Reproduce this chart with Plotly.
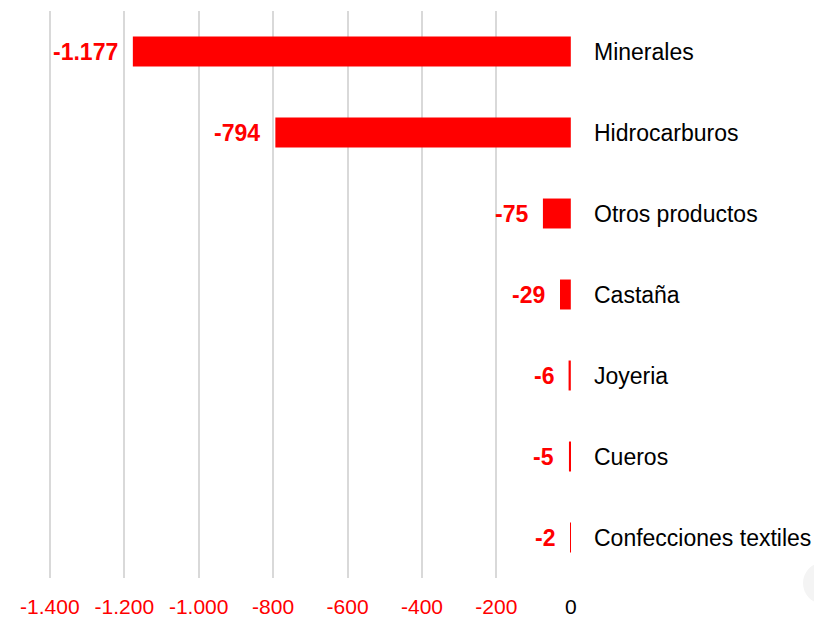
import plotly.graph_objects as go

categories = ["Minerales", "Hidrocarburos", "Otros productos", "Castaña", "Joyeria", "Cueros", "Confecciones textiles"]
values = [-1177, -794, -75, -29, -6, -5, -2]
tick_vals = [-1400, -1200, -1000, -800, -600, -400, -200, 0]
tick_text = ["-1.400", "-1.200", "-1.000", "-800", "-600", "-400", "-200", "<span style='color:black'>0</span>"]

def fmt(v):
    return f"{v:,}".replace(",", ".")

RED = "#ff0000"
FONT = "Liberation Sans, Arial, sans-serif"

fig = go.Figure()
fig.add_trace(go.Bar(
    x=values, y=categories, orientation="h",
    marker=dict(color=RED, line=dict(width=0)),
    width=0.37, hoverinfo="skip",
))

for c, v in zip(categories, values):
    fig.add_annotation(x=v, y=c, xref="x", yref="y", text=f"<b>{fmt(v)}</b>",
                       showarrow=False, xanchor="right", yanchor="middle", xshift=-13,
                       font=dict(family=FONT, size=23, color=RED))

fig.add_shape(type="circle", xref="paper", yref="paper", x0=1.4436, x1=1.524, y0=-0.046, y1=0.028,
              fillcolor="#f4f4f4", line=dict(width=0), layer="below")

fig.update_layout(
    width=814, height=609,
    margin=dict(l=40, r=251, t=3, b=39),
    paper_bgcolor="white", plot_bgcolor="white",
    showlegend=False,
    font=dict(family=FONT, size=22, color="black"),
)
fig.update_xaxes(
    range=[-1405, 0.5], tickvals=tick_vals, ticktext=tick_text,
    tickfont=dict(family=FONT, size=21, color=RED),
    showgrid=True, gridcolor="#d9d9d9", gridwidth=2,
    zeroline=False, showline=False, ticks="", ticklabelstandoff=14,
    automargin=False, fixedrange=True,
)
fig.update_yaxes(
    categoryorder="array", categoryarray=categories, autorange="reversed",
    side="right", showgrid=False, zeroline=False, showline=False,
    ticks="", ticklabelstandoff=22,
    tickfont=dict(family=FONT, size=23, color="black"),
    automargin=False, fixedrange=True,
)

fig.write_html("out.html")
